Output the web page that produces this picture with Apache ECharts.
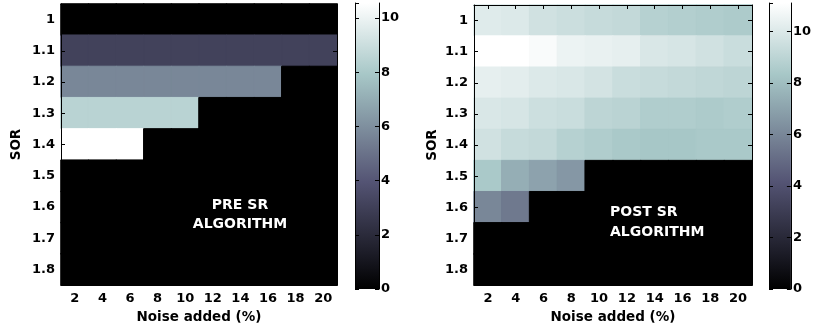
<!DOCTYPE html>
<html>
<head>
<meta charset="utf-8">
<script src="https://cdn.jsdelivr.net/npm/echarts@6/dist/echarts.min.js"></script>
<style>html,body{margin:0;padding:0;background:#fff}#c{width:814px;height:329px}</style>
</head>
<body>
<div id="c"></div>
<script>
// ---- data ----
var noise = ['2','4','6','8','10','12','14','16','18','20'];
var sor = ['1','1.1','1.2','1.3','1.4','1.5','1.6','1.7','1.8'];
var cbarTicks = [0, 2, 4, 6, 8, 10];
var preMax = 10.55;
var postMax = 11.1;

var pre_1_0 = [0, 0, 0, 0, 0, 0, 0, 0, 0, 0];
var pre_1_1 = [3.1, 3.1, 3.1, 3.1, 3.1, 3.1, 3.1, 3.1, 3.1, 3.1];
var pre_1_2 = [5.7, 5.7, 5.7, 5.7, 5.7, 5.7, 5.7, 5.7, 0, 0];
var pre_1_3 = [8.45, 8.45, 8.45, 8.45, 8.45, 0, 0, 0, 0, 0];
var pre_1_4 = [10.55, 10.55, 10.55, 0, 0, 0, 0, 0, 0, 0];
var pre_1_5 = [0, 0, 0, 0, 0, 0, 0, 0, 0, 0];
var pre_1_6 = [0, 0, 0, 0, 0, 0, 0, 0, 0, 0];
var pre_1_7 = [0, 0, 0, 0, 0, 0, 0, 0, 0, 0];
var pre_1_8 = [0, 0, 0, 0, 0, 0, 0, 0, 0, 0];

var post_1_0 = [10.1, 10.0, 9.6, 9.45, 9.3, 9.2, 8.8, 8.7, 8.6, 8.5];
var post_1_1 = [11.1, 11.1, 10.9, 10.5, 10.4, 10.3, 9.9, 9.8, 9.6, 9.4];
var post_1_2 = [10.3, 10.2, 10.0, 9.9, 9.7, 9.4, 9.3, 9.2, 9.1, 9.0];
var post_1_3 = [9.9, 9.8, 9.5, 9.4, 9.0, 8.9, 8.6, 8.6, 8.5, 8.6];
var post_1_4 = [9.6, 9.3, 9.2, 8.8, 8.6, 8.4, 8.3, 8.3, 8.4, 8.4];
var post_1_5 = [8.4, 7.4, 7.0, 6.6, 0, 0, 0, 0, 0, 0];
var post_1_6 = [6.0, 5.5, 0, 0, 0, 0, 0, 0, 0, 0];
var post_1_7 = [0, 0, 0, 0, 0, 0, 0, 0, 0, 0];
var post_1_8 = [0, 0, 0, 0, 0, 0, 0, 0, 0, 0];

var preRows = [pre_1_0, pre_1_1, pre_1_2, pre_1_3, pre_1_4, pre_1_5, pre_1_6, pre_1_7, pre_1_8];
var postRows = [post_1_0, post_1_1, post_1_2, post_1_3, post_1_4, post_1_5, post_1_6, post_1_7, post_1_8];

// ---- bone colormap ----
function clamp(v){ return Math.max(0, Math.min(1, v)); }
function bone(t){
  t = clamp(t);
  var hr = clamp(t / 0.375), hg = clamp((t - 0.375) / 0.375), hb = clamp((t - 0.75) / 0.25);
  var r = (7 * t + hb) / 8, g = (7 * t + hg) / 8, b = (7 * t + hr) / 8;
  function h(v){ var s = Math.round(v * 255).toString(16); return s.length < 2 ? '0' + s : s; }
  return '#' + h(r) + h(g) + h(b);
}
var boneColors = [];
for (var k = 0; k <= 8; k++) boneColors.push(bone(k / 8));
var boneStops = boneColors.map(function(c, i){ return { offset: 1 - i / 8, color: c }; });

function toCells(rows, max){
  var out = [];
  rows.forEach(function(row, yi){
    row.forEach(function(v, xi){
      var c = bone(v / max);
      out.push({ value: [xi, yi, v], itemStyle: { color: c, borderColor: c, borderWidth: 1 } });
    });
  });
  return out;
}

var FONT = 'DejaVu Sans';
var lbl = { color: '#000', fontFamily: FONT, fontWeight: 'bold', fontSize: 13 };
var nameLbl = { color: '#000', fontFamily: FONT, fontWeight: 'bold', fontSize: 13.5 };
var tickIn = { show: true, inside: true, length: 4, lineStyle: { color: '#000', width: 1 } };
var axLine = { show: true, lineStyle: { color: '#000', width: 1 } };

var grids = [
  { left: 61, top: 4, width: 276, height: 283, show: true, backgroundColor: '#000', borderWidth: 0 },
  { left: 355, top: 3, width: 24, height: 286 },
  { left: 474, top: 5, width: 278, height: 282, show: true, backgroundColor: '#000', borderWidth: 0 },
  { left: 769, top: 3, width: 24, height: 286 }
];

function heatAxes(gi, nameGapY){
  var xs = [
    { type: 'category', gridIndex: gi, data: noise, position: 'bottom', z: 5,
      axisLine: axLine, axisTick: Object.assign({ alignWithLabel: true }, tickIn),
      axisLabel: Object.assign({ margin: 7 }, lbl), splitLine: { show: false },
      name: 'Noise added (%)', nameLocation: 'middle', nameGap: 20, nameTextStyle: nameLbl },
    { type: 'category', gridIndex: gi, data: noise, position: 'top', z: 5,
      axisLine: axLine, axisTick: Object.assign({ alignWithLabel: true }, tickIn),
      axisLabel: { show: false }, splitLine: { show: false } }
  ];
  var ys = [
    { type: 'category', gridIndex: gi, data: sor, inverse: true, position: 'left', z: 5,
      axisLine: axLine, axisTick: Object.assign({ alignWithLabel: true }, tickIn),
      axisLabel: Object.assign({ margin: 6 }, lbl), splitLine: { show: false },
      name: 'SOR', nameLocation: 'middle', nameGap: nameGapY, nameRotate: 90, nameTextStyle: nameLbl },
    { type: 'category', gridIndex: gi, data: sor, inverse: true, position: 'right', z: 5,
      axisLine: axLine, axisTick: Object.assign({ alignWithLabel: true }, tickIn),
      axisLabel: { show: false }, splitLine: { show: false } }
  ];
  return { xs: xs, ys: ys };
}
function cbarAxes(gi, max){
  var xs = [{ type: 'category', gridIndex: gi, data: ['c'], show: false }];
  var ys = [
    { type: 'value', gridIndex: gi, min: 0, max: max, interval: 2, position: 'right', z: 5,
      axisLine: axLine, axisTick: tickIn, splitLine: { show: false },
      axisLabel: Object.assign({ margin: 2, showMaxLabel: false,
        formatter: function(v){ return cbarTicks.indexOf(v) >= 0 ? String(v) : ''; } }, lbl) },
    { type: 'value', gridIndex: gi, min: 0, max: max, interval: 2, position: 'left', z: 5,
      axisLine: axLine, axisTick: tickIn, splitLine: { show: false }, axisLabel: { show: false } }
  ];
  return { xs: xs, ys: ys };
}

var a0 = heatAxes(0, 38), a1 = cbarAxes(1, preMax), a2 = heatAxes(2, 35), a3 = cbarAxes(3, postMax);
var xAxis = [].concat(a0.xs, a1.xs, a2.xs, a3.xs);   // indices: 0,1 | 2 | 3,4 | 5
var yAxis = [].concat(a0.ys, a1.ys, a2.ys, a3.ys);   // indices: 0,1 | 2,3 | 4,5 | 6,7

var gradient = { type: 'linear', x: 0, y: 0, x2: 0, y2: 1, colorStops: boneStops };

var option = {
  animation: false,
  backgroundColor: '#fff',
  grid: grids,
  xAxis: xAxis,
  yAxis: yAxis,
  series: [
    { type: 'heatmap', xAxisIndex: 0, yAxisIndex: 0, data: toCells(preRows, preMax), progressive: 0,
      emphasis: { disabled: true } },
    { type: 'bar', xAxisIndex: 2, yAxisIndex: 2, data: [preMax], barWidth: '100%',
      itemStyle: { color: gradient }, silent: true },
    { type: 'heatmap', xAxisIndex: 3, yAxisIndex: 4, data: toCells(postRows, postMax), progressive: 0,
      emphasis: { disabled: true } },
    { type: 'bar', xAxisIndex: 5, yAxisIndex: 6, data: [postMax], barWidth: '100%',
      itemStyle: { color: gradient }, silent: true }
  ],
  graphic: [
    { type: 'text', x: 240, y: 214.5, z: 100,
      style: { text: 'PRE SR\nALGORITHM', fill: '#fff', fontFamily: FONT, fontWeight: 'bold', fontSize: 14,
               lineHeight: 19, align: 'center', verticalAlign: 'middle' } },
    { type: 'text', x: 610, y: 222, z: 100,
      style: { text: 'POST SR\nALGORITHM', fill: '#fff', fontFamily: FONT, fontWeight: 'bold', fontSize: 14,
               lineHeight: 20, align: 'left', verticalAlign: 'middle' } }
  ]
};

var chart = echarts.init(document.getElementById('c'), null, { renderer: 'canvas' });
chart.setOption(option);
</script>
</body>
</html>
